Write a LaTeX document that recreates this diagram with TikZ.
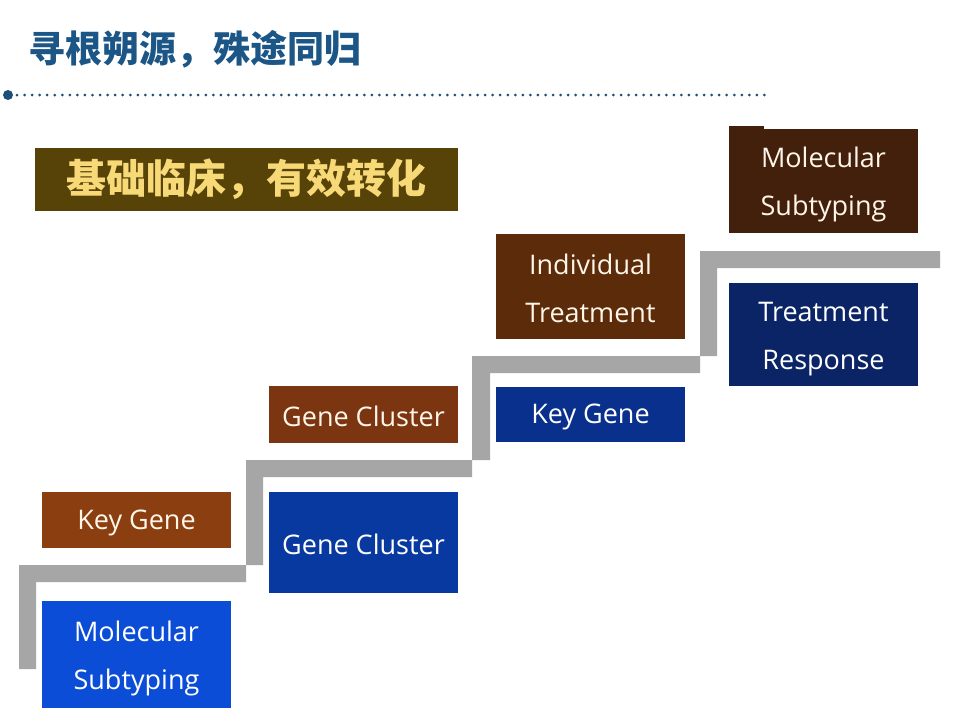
\documentclass[tikz,border=0pt]{standalone}
\usepackage{fontspec}
\setmainfont{Open Sans}
\newfontfamily\cjk{Noto Sans CJK SC}
\definecolor{hdr}{HTML}{1B5686}
\definecolor{dotc}{HTML}{1F4E79}
\definecolor{banner}{HTML}{574208}
\definecolor{bannertxt}{HTML}{F7D978}
\definecolor{stair}{HTML}{A6A6A6}
\definecolor{cA}{HTML}{0B4DD6}
\definecolor{cB}{HTML}{8B3E0F}
\definecolor{cC}{HTML}{0839A0}
\definecolor{cD}{HTML}{7B3511}
\definecolor{cE}{HTML}{5C2B0A}
\definecolor{cF}{HTML}{08308C}
\definecolor{cG}{HTML}{43200C}
\definecolor{cH}{HTML}{0A2466}
\definecolor{cream}{HTML}{FFF6EA}
\tikzset{
  stepbox/.style={inner sep=0pt, minimum width=189pt},
  boxtext/.style={inner sep=0pt, align=center, text=white,
    font=\fontsize{27}{48}\selectfont},
  stairbar/.style={fill=stair, draw=none}
}
\begin{document}
\begin{tikzpicture}[x=1pt,y=-1pt]
\useasboundingbox (0,0) rectangle (960,720);
\fill[white] (0,0) rectangle (960,720);
% header
\node[anchor=west, inner sep=0pt, text=hdr, font=\cjk\bfseries\fontsize{37}{40}\selectfont] (title) at (28,49) {寻根朔源，殊途同归};
\fill[dotc] (8,95) circle (5);
\coordinate (dl) at (17,95);
\coordinate (dr) at (765,95);
\draw[dotc, line width=3pt, line cap=round, dash pattern=on 0pt off 7.55pt] (dl) -- (dr);
% banner
\node[fill=banner, minimum width=423pt, minimum height=63pt, inner sep=0pt, text=bannertxt, font=\cjk\bfseries\fontsize{40}{44}\selectfont] (ban) at (246.5,179.5) {基础临床，有效转化};
% stairs
\fill[stairbar] (19,565) -- (246,565) -- (246,582) -- (36,582) -- (36,669) -- (19,669) -- cycle;
\fill[stairbar] (246,460) -- (472,460) -- (472,477) -- (263,477) -- (263,565) -- (246,565) -- cycle;
\fill[stairbar] (472,356) -- (700,356) -- (700,373) -- (490,373) -- (490,460) -- (472,460) -- cycle;
\fill[stairbar] (700,251) -- (940,251) -- (940,268) -- (717,268) -- (717,356) -- (700,356) -- cycle;
% boxes
\node[stepbox, fill=cA, minimum height=107pt] (ms1) at (136.5,654.5) {};
\node[boxtext] (ms1t) at ([yshift=-4pt]ms1.center) {Molecular\\Subtyping};
\node[stepbox, fill=cB, minimum height=56pt] (kg1) at (136.5,520) {};
\node[boxtext, text=cream] (kg1t) at ([yshift=-3pt]kg1.center) {Key Gene};
\node[stepbox, fill=cC, minimum height=101pt] (gc1) at (363.5,542.5) {};
\node[boxtext] (gc1t) at ([yshift=-2pt]gc1.center) {Gene Cluster};
\node[stepbox, fill=cD, minimum height=57pt] (gc2) at (363.5,414.5) {};
\node[boxtext, text=cream] (gc2t) at ([yshift=-2pt]gc2.center) {Gene Cluster};
\node[stepbox, fill=cF, minimum height=55pt] (kg2) at (590.5,414.5) {};
\node[boxtext] (kg2t) at ([yshift=-2pt]kg2.center) {Key Gene};
\node[stepbox, fill=cE, minimum height=105pt] (it) at (590.5,286.5) {};
\node[boxtext, text=cream] (itt) at ([yshift=-2pt]it.center) {Individual\\Treatment};
\node[stepbox, fill=cH, minimum height=103pt] (tr) at (823.5,334.5) {};
\node[boxtext] (trt) at ([yshift=-5pt]tr.center) {Treatment\\Response};
\fill[cG] (729,126) rectangle (764,130);
\node[stepbox, fill=cG, minimum height=104pt] (ms2) at (823.5,181) {};
\node[boxtext, text=cream] (ms2t) at ([yshift=-3pt]ms2.center) {Molecular\\Subtyping};
\end{tikzpicture}
\end{document}
